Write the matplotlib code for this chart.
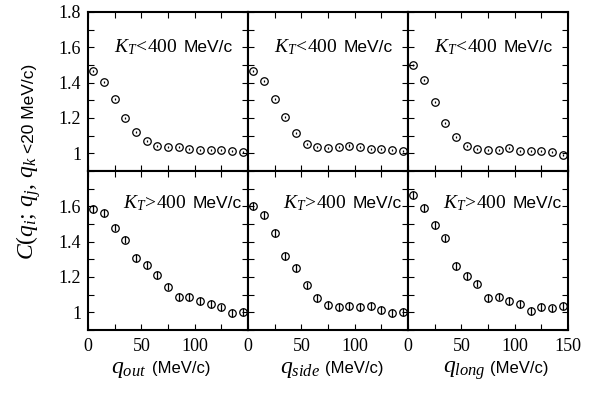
import matplotlib
matplotlib.use("Agg")
import matplotlib.pyplot as plt
import matplotlib.ticker as ticker

plt.rcParams["font.family"] = ["Liberation Sans", "DejaVu Sans"]
plt.rcParams["mathtext.fontset"] = "custom"
plt.rcParams["mathtext.rm"] = "Liberation Serif"
plt.rcParams["mathtext.it"] = "Liberation Serif:italic"
plt.rcParams["mathtext.bf"] = "Liberation Serif:bold"

# bin centres (MeV/c)
q = [5, 15, 25, 35, 45, 55, 65, 75, 85, 95, 105, 115, 125, 135, 145]

# K_T < 400 MeV/c
low_out = [1.465, 1.405, 1.31, 1.20, 1.12, 1.068, 1.042, 1.038, 1.034, 1.027,
           1.02, 1.02, 1.02, 1.011, 1.007]
low_side = [1.465, 1.407, 1.31, 1.206, 1.116, 1.055, 1.034, 1.030, 1.034, 1.044,
            1.038, 1.027, 1.023, 1.019, 1.011]
low_long = [1.499, 1.415, 1.293, 1.171, 1.091, 1.042, 1.027, 1.017, 1.021, 1.029,
            1.011, 1.011, 1.011, 1.007, 0.993]

# K_T > 400 MeV/c
high_out = [1.585, 1.562, 1.480, 1.412, 1.308, 1.270, 1.211, 1.146, 1.087, 1.087,
            1.066, 1.047, 1.028, 0.998, 1.000]
high_side = [1.60, 1.553, 1.45, 1.321, 1.249, 1.152, 1.081, 1.042, 1.032, 1.036,
             1.032, 1.034, 1.013, 0.998, 1.000]
high_long = [1.664, 1.590, 1.493, 1.418, 1.264, 1.205, 1.163, 1.080, 1.089, 1.064,
             1.049, 1.007, 1.030, 1.022, 1.034]

low_err = [0.006] * 15
high_err = [0.022] * 15

# (series, errors, math part, sans x, math right x, baseline y)
rows = [
    ([low_out, low_side, low_long], low_err, r"$K_T\!<\!\mathit{400}$", 89.5, 84, 1.573),
    ([high_out, high_side, high_long], high_err, r"$K_T\!>\!\mathit{400}$", 98, 92.5, 1.589),
]
xlabel_math = [r"$q_{out}$", r"$q_{side}$", r"$q_{long}$"]
xlabel_pos = [(146, 152), (320, 325), (486, 490)]

fig = plt.figure(figsize=(6.03, 3.93), dpi=100)
W, H = 603, 393
x0, pw = 88, 160
y_top, ph = 12, 159

for r, (series, err, kt, sx, mx, by) in enumerate(rows):
    for c in range(3):
        left = (x0 + c * pw) / W
        bottom = 1 - (y_top + (r + 1) * ph) / H
        ax = fig.add_axes([left, bottom, pw / W, ph / H])
        ax.errorbar(q, series[c], yerr=err, fmt="o", ms=5.4, mfc="none",
                    mec="black", mew=0.9, ecolor="black", elinewidth=0.9,
                    capsize=0, zorder=3)
        ax.set_xlim(0, 150)
        ax.set_ylim(0.9, 1.8)
        for s in ax.spines.values():
            s.set_linewidth(1.5)
        ax.xaxis.set_major_locator(ticker.MultipleLocator(50))
        ax.xaxis.set_minor_locator(ticker.MultipleLocator(25))
        ax.yaxis.set_major_locator(ticker.MultipleLocator(0.2))
        ax.yaxis.set_minor_locator(ticker.MultipleLocator(0.1))
        ax.tick_params(which="both", direction="in", top=True, right=True,
                       length=4, width=0.8, labelsize=13)
        ax.tick_params(axis="y", pad=5)
        ax.tick_params(axis="x", pad=6)

        if c == 0:
            if r == 0:
                ax.set_yticks([1, 1.2, 1.4, 1.6, 1.8])
                ax.set_yticklabels(["1", "1.2", "1.4", "1.6", "1.8"])
            else:
                ax.set_yticks([1, 1.2, 1.4, 1.6])
                ax.set_yticklabels(["1", "1.2", "1.4", "1.6"])
            for t in ax.get_yticklabels():
                t.set_family("Liberation Serif")
        else:
            ax.tick_params(axis="y", labelleft=False)

        if r == 1:
            if c == 2:
                ax.set_xticks([0, 50, 100, 150])
                ax.set_xticklabels(["0", "50", "100", "150"])
            else:
                ax.set_xticks([0, 50, 100])
                ax.set_xticklabels(["0", "50", "100"])
            for t in ax.get_xticklabels():
                t.set_family("Liberation Serif")
        else:
            ax.tick_params(axis="x", labelbottom=False)

        # K_T label: serif italic part + sans units
        ax.text(mx, by, kt, ha="right", va="baseline", fontsize=14)
        ax.text(sx, by, "MeV/c", ha="left", va="baseline", fontsize=12.5)

# x axis titles
for c in range(3):
    mr, sl = xlabel_pos[c]
    fig.text(mr / W, 1 - 373 / H, xlabel_math[c], ha="right", va="baseline",
             fontsize=17)
    fig.text(sl / W, 1 - 373 / H, "(MeV/c)", ha="left", va="baseline",
             fontsize=12)

# y axis title
fig.text(34 / W, 1 - 156 / H, r"$C(q_i;\,q_j,\,q_k$", rotation=90,
         rotation_mode="anchor", ha="right", va="baseline", fontsize=17)
fig.text(34 / W, 1 - 153 / H, "<20 MeV/c)", rotation=90,
         rotation_mode="anchor", ha="left", va="baseline", fontsize=12.5)

fig.savefig("out.png", dpi=100)
